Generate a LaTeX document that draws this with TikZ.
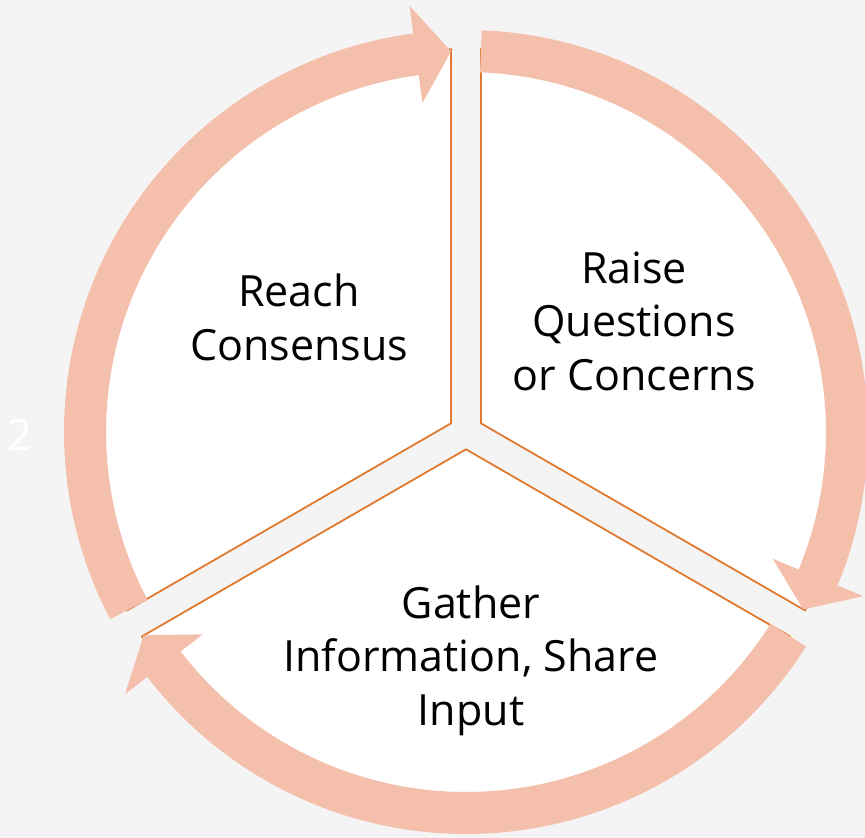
\documentclass[tikz,border=0pt]{standalone}
\usepackage{fontspec}
\setmainfont{Open Sans}
\definecolor{bg}{RGB}{244,244,244}
\definecolor{pinkarrow}{RGB}{244,191,171}
\definecolor{edgeorange}{RGB}{226,121,48}
\tikzset{
  sector/.style={fill=white, draw=edgeorange, line width=1.8pt, line join=miter},
  cyclearrow/.style={fill=pinkarrow, draw=none},
  lbl/.style={font=\fontsize{43}{53.5}\selectfont, align=center, anchor=base, text=black, inner sep=0pt},
}
\begin{document}
\begin{tikzpicture}[x=1pt,y=1pt]
\fill[bg] (0,0) rectangle (865,-838);
\useasboundingbox (0,0) rectangle (865,-838);
\begin{scope}[shift={(466,-432)}]
  \foreach \b in {150,30,270} {
    \pgfmathsetmacro\sa{\b-57.755}
    \pgfmathsetmacro\sb{\b+57.755}
    \draw[sector] (\b:17.32) -- (\sa:383) arc[start angle=\sa, end angle=\sb, radius=383] -- cycle;
  }
  \foreach \a in {207.755, 87.755, -32.245} {
    \pgfmathsetmacro\tip{\a-115.51}
    \pgfmathsetmacro\back{\tip+5.3}
    \fill[cyclearrow] (\a:402) arc[start angle=\a, end angle=\back, radius=402]
      -- (\back:430) -- (\tip:381) -- (\back:332) -- (\back:360)
      arc[start angle=\back, end angle=\a, radius=360] -- cycle;
  }
\end{scope}
\node[lbl] (reach) at (299,-360) {Reach\\Consensus};
\node[lbl] (raise) at (634,-390) {Raise\\Questions\\or Concerns};
\node[lbl] (gather) at (471,-725) {Gather\\Information, Share\\Input};
\node[lbl, text=white] (two) at (19.5,-450) {2};
\end{tikzpicture}
\end{document}
